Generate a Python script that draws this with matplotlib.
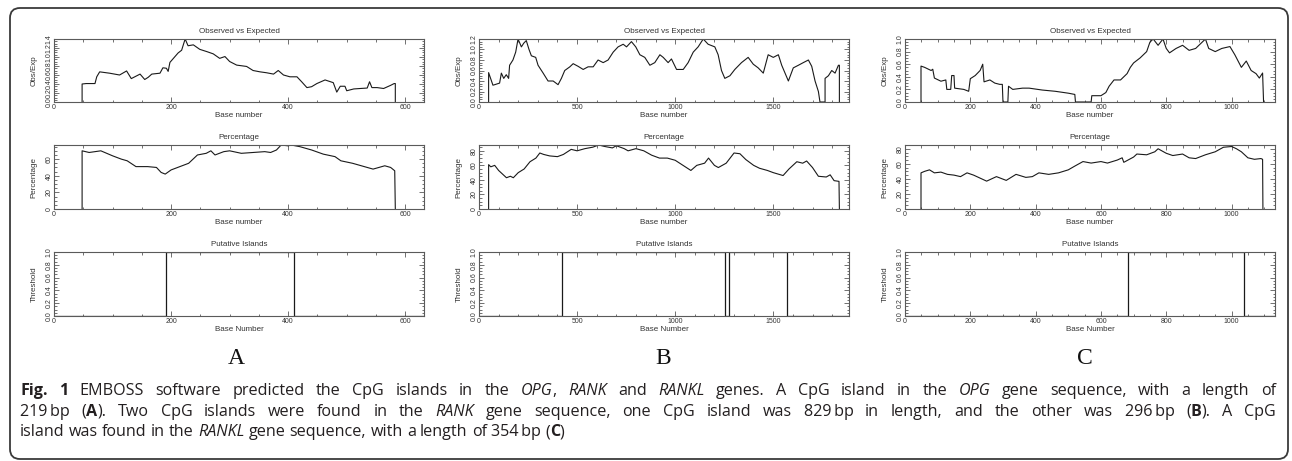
import matplotlib
matplotlib.use('Agg')
import matplotlib.pyplot as plt
from matplotlib.patches import FancyBboxPatch
from matplotlib.ticker import MultipleLocator, FormatStrFormatter

# ---- panel A (OPG) ----
len_a = 632
obs_a_x = [48, 48, 55, 70, 73, 78, 95, 112, 124, 132, 147, 155, 161, 167, 181, 186, 192, 195, 198, 204,
           212, 218, 224, 229, 238, 249, 261, 272, 283, 292, 300, 312, 329, 340, 352, 363, 375, 383, 392, 403,
           415, 423, 432, 440, 449, 463, 477, 483, 489, 497, 500, 512, 523, 535, 539, 543, 552, 563, 575, 581,
           583, 583]
obs_a_y = [0, 0.40, 0.41, 0.41, 0.56, 0.67, 0.64, 0.60, 0.69, 0.52, 0.62, 0.50, 0.55, 0.62, 0.64, 0.76, 0.75, 0.68, 0.88, 0.97,
           1.09, 1.15, 1.40, 1.25, 1.27, 1.17, 1.12, 1.07, 0.97, 1.01, 0.90, 0.82, 0.79, 0.70, 0.67, 0.65, 0.62, 0.70, 0.60, 0.56,
           0.56, 0.45, 0.32, 0.34, 0.41, 0.49, 0.43, 0.22, 0.35, 0.35, 0.25, 0.29, 0.30, 0.31, 0.45, 0.32, 0.32, 0.30, 0.37, 0.41,
           0.41, 0]
pct_a_x = [48, 48, 60, 80, 100, 115, 125, 140, 160, 175, 183, 190, 200, 215, 230, 245, 260, 268, 275, 290,
           300, 320, 340, 360, 370, 380, 388, 400, 405, 420, 440, 460, 480, 490, 510, 530, 545, 555, 565, 575,
           582, 583]
pct_a_y = [0, 70, 68, 70, 64, 60, 58, 51, 51, 50, 44, 42, 47, 51, 55, 65, 67, 70, 65, 69,
           70, 67, 68, 69, 68, 71, 77, 76, 77, 75, 71, 66, 63, 58, 55, 51, 48, 50, 52, 50,
           46, 0]
isl_a_start = [191]
isl_a_end = [410]

# ---- panel B (RANK) ----
len_b = 1886
obs_b_x = [49, 49, 71, 80, 105, 114, 126, 139, 151, 156, 173, 187, 199, 216, 228, 241, 255, 267, 289, 301,
           327, 352, 378, 403, 420, 437, 463, 480, 505, 531, 556, 582, 607, 633, 658, 684, 709, 735, 752, 777,
           799, 820, 845, 871, 896, 922, 939, 964, 981, 1007, 1041, 1066, 1092, 1117, 1143, 1168, 1202, 1219, 1236, 1253,
           1279, 1304, 1338, 1372, 1398, 1423, 1449, 1474, 1500, 1526, 1543, 1560, 1577, 1602, 1628, 1653, 1679, 1696, 1713, 1730,
           1738, 1764, 1764, 1781, 1798, 1815, 1832, 1837, 1837]
obs_b_y = [0, 0.56, 0.32, 0.33, 0.36, 0.55, 0.45, 0.52, 0.45, 0.70, 0.80, 0.95, 1.20, 1.05, 1.12, 1.17, 1.00, 0.88, 0.85, 0.70,
           0.55, 0.40, 0.40, 0.33, 0.45, 0.60, 0.67, 0.73, 0.68, 0.62, 0.67, 0.67, 0.80, 0.75, 0.80, 0.95, 1.05, 1.10, 1.05, 1.15,
           1.05, 0.90, 0.85, 0.70, 0.75, 0.90, 0.85, 0.75, 0.82, 0.62, 0.62, 0.75, 0.95, 1.05, 1.20, 1.10, 1.05, 0.90, 0.60, 0.45,
           0.50, 0.62, 0.75, 0.85, 0.72, 0.65, 0.55, 0.90, 0.85, 0.90, 0.70, 0.55, 0.40, 0.65, 0.70, 0.75, 0.80, 0.68, 0.40, 0.20,
           0.0, 0.0, 0.45, 0.50, 0.60, 0.55, 0.70, 0.70, 0]
pct_b_x = [49, 49, 60, 80, 100, 120, 140, 160, 175, 200, 230, 260, 290, 310, 330, 360, 400, 430, 470, 500,
           540, 580, 610, 640, 680, 700, 740, 760, 800, 840, 880, 920, 960, 1000, 1040, 1080, 1110, 1150, 1170, 1200,
           1220, 1260, 1300, 1330, 1360, 1400, 1430, 1470, 1500, 1550, 1580, 1620, 1650, 1670, 1700, 1730, 1770, 1790, 1810, 1835,
           1837]
pct_b_y = [0, 61, 58, 60, 53, 48, 43, 45, 43, 50, 55, 65, 70, 77, 75, 73, 72, 75, 82, 80,
           83, 85, 88, 86, 84, 87, 83, 80, 83, 80, 74, 70, 70, 67, 60, 53, 60, 63, 70, 60,
           57, 63, 77, 76, 68, 60, 56, 53, 50, 46, 55, 65, 63, 66, 57, 45, 44, 47, 39, 38,
           0]
isl_b_start = [423, 1274]
isl_b_end = [1252, 1570]

# ---- panel C (RANKL) ----
len_c = 1133
obs_c_x = [49, 49, 60, 80, 85, 90, 110, 125, 128, 140, 143, 150, 152, 180, 195, 200, 215, 230, 238, 242,
           260, 275, 290, 298, 300, 315, 317, 330, 360, 380, 420, 460, 500, 520, 522, 570, 572, 600, 615, 625,
           640, 660, 680, 690, 700, 720, 740, 750, 760, 775, 790, 800, 810, 830, 850, 870, 890, 920, 930, 950,
           970, 995, 1010, 1030, 1045, 1060, 1075, 1085, 1095, 1098]
obs_c_y = [0, 0.57, 0.55, 0.50, 0.52, 0.38, 0.33, 0.35, 0.20, 0.20, 0.42, 0.42, 0.22, 0.20, 0.17, 0.37, 0.42, 0.50, 0.60, 0.32,
           0.35, 0.30, 0.28, 0.28, 0.0, 0.0, 0.25, 0.20, 0.22, 0.22, 0.19, 0.17, 0.14, 0.12, 0.0, 0.0, 0.10, 0.10, 0.15, 0.25,
           0.35, 0.35, 0.45, 0.55, 0.62, 0.70, 0.80, 0.95, 1.00, 0.90, 1.00, 0.85, 0.78, 0.85, 0.90, 0.82, 0.85, 1.00, 0.85, 0.80,
           0.85, 0.88, 0.75, 0.55, 0.65, 0.50, 0.45, 0.38, 0.46, 0]
pct_c_x = [49, 49, 60, 75, 90, 110, 130, 150, 170, 190, 210, 230, 250, 280, 310, 340, 370, 390, 410, 440,
           470, 500, 520, 545, 570, 600, 620, 650, 665, 670, 700, 710, 740, 765, 775, 800, 820, 850, 870, 890,
           920, 950, 975, 1000, 1015, 1030, 1050, 1070, 1090, 1095, 1096]
pct_c_y = [0, 48, 50, 52, 48, 49, 46, 45, 43, 48, 45, 41, 37, 43, 38, 46, 42, 43, 48, 46,
           48, 52, 57, 63, 61, 63, 61, 65, 68, 62, 69, 73, 72, 76, 80, 74, 71, 73, 68, 67,
           72, 76, 82, 83, 80, 76, 68, 66, 67, 66, 0]
isl_c_start = [684]
isl_c_end = [1038]

panel_letters = ['A', 'B', 'C']

# \u2009 = thin space between number and unit, as in the original caption
caption_lines = [
    "**Fig. 1** EMBOSS software predicted the CpG islands in the *OPG*, *RANK* and *RANKL* genes. "
    "A CpG island in the *OPG* gene sequence, with a length of",
    "219\u2009bp (**A**). Two CpG islands were found in the *RANK* gene sequence, one CpG island was "
    "829\u2009bp in length, and the other was 296\u2009bp (**B**). A CpG",
    "island was found in the *RANKL* gene sequence, with a length of 354\u2009bp (**C**)",
]

W, H = 1292, 461
fig = plt.figure(figsize=(W / 100, H / 100), dpi=100)
fig.patch.set_facecolor('white')

# background axes in pixel units, used for the frame, letters and caption
bg = fig.add_axes([0, 0, 1, 1], zorder=-5)
bg.set_xlim(0, W)
bg.set_ylim(H, 0)
bg.axis('off')
bg.add_patch(FancyBboxPatch((10, 8), 1278, 451, boxstyle='round,pad=0,rounding_size=10',
                            facecolor='none', edgecolor='#3a3a3a', linewidth=1.3))

AX_FAMILY = 'Liberation Sans'
AX_FONT = 5.8
TICK_FONT = 5.0
LINE_C = '#1a1a1a'
SPINE_C = '#5a5a5a'
TXT_C = '#333333'


def style_axes(ax, length, xmajor, xminor, ymajor, yminor):
    ax.set_xlim(0, length)
    ax.xaxis.set_major_locator(MultipleLocator(xmajor))
    ax.xaxis.set_minor_locator(MultipleLocator(xminor))
    ax.yaxis.set_major_locator(MultipleLocator(ymajor))
    ax.yaxis.set_minor_locator(MultipleLocator(yminor))
    ax.tick_params(which='both', direction='in', top=True, right=True, colors=SPINE_C,
                   labelcolor=TXT_C, labelsize=TICK_FONT, width=0.6, pad=1.5)
    ax.tick_params(which='major', length=3.5)
    ax.tick_params(which='minor', length=1.8)
    ax.tick_params(axis='y', labelrotation=90, pad=1)
    for lab in ax.get_yticklabels() + ax.get_xticklabels():
        lab.set_family(AX_FAMILY)
    for lab in ax.get_yticklabels():
        lab.set_va('center')
    for s in ax.spines.values():
        s.set_color(SPINE_C)
        s.set_linewidth(0.8)


def labels(ax, title, xlab, ylab):
    kw = dict(fontsize=AX_FONT, color=TXT_C, family=AX_FAMILY)
    ax.set_title(title, pad=4, **kw)
    ax.set_xlabel(xlab, labelpad=1, **kw)
    ax.set_ylabel(ylab, labelpad=6, **kw)


def draw_panel(left, obs_x, obs_y, pct_x, pct_y, isl_s, isl_e, length,
               obs_top, pct_top, xmajor, xminor):
    wid = 370 / W
    rows = [(39, 102), (145, 209), (252, 316)]

    # observed vs expected
    t, b = rows[0]
    ax = fig.add_axes([left / W, 1 - b / H, wid, (b - t) / H])
    ax.plot(obs_x, obs_y, color=LINE_C, lw=0.8)
    ax.set_ylim(0, obs_top)
    ax.yaxis.set_major_formatter(FormatStrFormatter('%.1f'))
    style_axes(ax, length, xmajor, xminor, 0.2, 0.05)
    labels(ax, 'Observed vs Expected', 'Base number', 'Obs/Exp')

    # percentage
    t, b = rows[1]
    ax = fig.add_axes([left / W, 1 - b / H, wid, (b - t) / H])
    ax.plot(pct_x, pct_y, color=LINE_C, lw=0.8)
    ax.set_ylim(0, pct_top)
    style_axes(ax, length, xmajor, xminor, 20, 5)
    labels(ax, 'Percentage', 'Base number', 'Percentage')

    # putative islands, built from island start/end positions
    tx, ty = [0], [0]
    for s, e in zip(isl_s, isl_e):
        tx += [s, s, e, e]
        ty += [0, 1, 1, 0]
    tx.append(length)
    ty.append(0)
    t, b = rows[2]
    ax = fig.add_axes([left / W, 1 - b / H, wid, (b - t) / H])
    ax.plot(tx, ty, color=LINE_C, lw=0.9)
    ax.set_ylim(0, 1.0)
    ax.yaxis.set_major_formatter(FormatStrFormatter('%.1f'))
    style_axes(ax, length, xmajor, xminor, 0.2, 0.05)
    labels(ax, 'Putative Islands', 'Base Number', 'Threshold')


draw_panel(54, obs_a_x, obs_a_y, pct_a_x, pct_a_y, isl_a_start, isl_a_end, len_a, 1.4, 77, 200, 50)
draw_panel(479, obs_b_x, obs_b_y, pct_b_x, pct_b_y, isl_b_start, isl_b_end, len_b, 1.2, 88, 500, 100)
draw_panel(905, obs_c_x, obs_c_y, pct_c_x, pct_c_y, isl_c_start, isl_c_end, len_c, 1.0, 85, 200, 50)

for xc, letter in zip([236, 663, 1085], panel_letters):
    bg.text(xc, 358, letter, fontsize=17, family='Liberation Serif', ha='center', va='center', color='#111111')


# ---- caption: runs of plain / bold / italic text, justified ----
def parse(line):
    words, frags, buf = [], [], ''
    bold = italic = False
    i = 0
    while i < len(line):
        if line.startswith('**', i):
            if buf:
                frags.append((buf, bold, italic))
                buf = ''
            bold = not bold
            i += 2
            continue
        ch = line[i]
        if ch == '*':
            if buf:
                frags.append((buf, bold, italic))
                buf = ''
            italic = not italic
        elif ch == ' ':
            if buf:
                frags.append((buf, bold, italic))
                buf = ''
            if frags:
                words.append(frags)
                frags = []
        else:
            buf += ch
        i += 1
    if buf:
        frags.append((buf, bold, italic))
    if frags:
        words.append(frags)
    return words


renderer = fig.canvas.get_renderer()
CAP_FONT = ['Open Sans', 'DejaVu Sans']


def make_line(words, y, size):
    items = []
    total = 0
    for word in words:
        parts = []
        for txt, b, it in word:
            t = bg.text(0, y, txt, fontsize=size, family=CAP_FONT, color='#231f20',
                        fontweight='bold' if b else 'normal',
                        fontstyle='italic' if it else 'normal', va='baseline', ha='left')
            w = t.get_window_extent(renderer).width
            parts.append((t, w))
            total += w
        items.append(parts)
    return items, total


def place(items, total, x0, size, target=None):
    space = size * 0.26 * 100 / 72
    n = len(items)
    gap = space if target is None else (target - total) / (n - 1)
    x = x0
    for parts in items:
        for t, w in parts:
            t.set_x(x)
            x += w
        x += gap


cap_size = 11.6
x_left, x_right = 20, 1276
baselines = [395, 415.5, 436]
for k, (line, yb) in enumerate(zip(caption_lines, baselines)):
    items, total = make_line(parse(line), yb, cap_size)
    target = (x_right - x_left) if k < 2 else None
    place(items, total, x_left, cap_size, target)

fig.savefig('out.png', dpi=100, facecolor='white')
